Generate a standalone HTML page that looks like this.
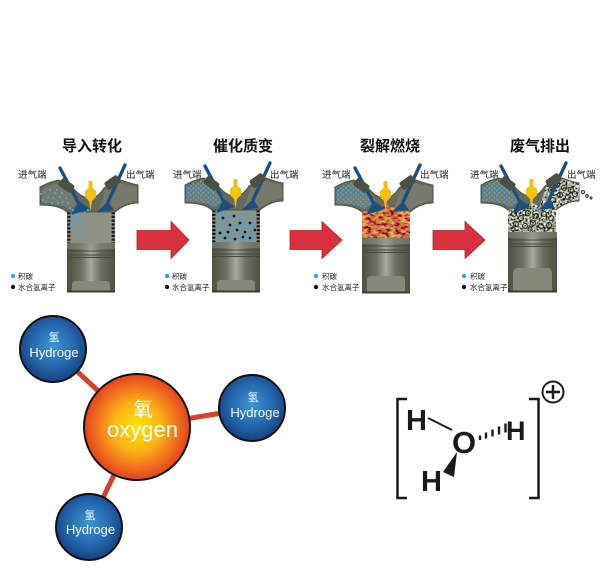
<!DOCTYPE html>
<html><head><meta charset="utf-8">
<style>
html,body{margin:0;padding:0;background:#fff;}
svg{display:block;}
</style></head><body>
<svg width="601" height="574" viewBox="0 0 601 574" xmlns="http://www.w3.org/2000/svg">
<defs>
<linearGradient id="pg" x1="0" x2="1" y1="0" y2="0">
<stop offset="0" stop-color="#4d5044"/><stop offset=".3" stop-color="#6c6f61"/><stop offset=".5" stop-color="#a6a99b"/><stop offset=".7" stop-color="#6c6f61"/><stop offset="1" stop-color="#4d5044"/>
</linearGradient>
<radialGradient id="og" cx=".5" cy=".5" r=".5"><stop offset="0" stop-color="#ffe600"/><stop offset=".45" stop-color="#fcb416"/><stop offset=".8" stop-color="#ef6a1e"/><stop offset="1" stop-color="#e2431d"/></radialGradient>
<radialGradient id="hg" cx=".5" cy=".45" r=".55"><stop offset="0" stop-color="#3d94d6"/><stop offset=".6" stop-color="#2466ad"/><stop offset="1" stop-color="#173f7d"/></radialGradient>
<pattern id="bd" width="6" height="5.4" patternUnits="userSpaceOnUse"><circle cx="1.5" cy="1.4" r="1.1" fill="#4aa7db"/><circle cx="4.5" cy="4.1" r="1" fill="#4aa7db"/></pattern>
<pattern id="bp" width="5" height="4.6" patternUnits="userSpaceOnUse"><circle cx="1.4" cy="1.3" r="1.1" fill="#4aa7db"/><circle cx="3.9" cy="3.6" r="1" fill="#4aa7db"/></pattern>
<filter id="fire"><feTurbulence type="fractalNoise" baseFrequency="0.18 0.35" numOctaves="3" seed="7"/><feColorMatrix type="matrix" values="1.5 0 0 0 -0.17  1.2 0 0 0 -0.42  0.2 0 0 0 -0.05  0 0 0 0 1"/></filter>
<filter id="bub"><feTurbulence type="fractalNoise" baseFrequency="0.45" numOctaves="2" seed="2"/><feColorMatrix type="matrix" values="2.2 0 0 0 -0.72  2.2 0 0 0 -0.7  2.1 0 0 0 -0.72  0 0 0 0 1"/></filter>
<clipPath id="lpc"><path d="M-26,-24 C-20,-28 -14,-30 -8,-30 L6,-22 C10,-17 12,-14 14,-11 L3,-3 C-6,-7 -14,-9 -26,-8 Z"/></clipPath>
<clipPath id="rpc"><path d="M38,-23 L50,-32 C58,-30 64,-28 71,-26 L71,-10 C62,-10 54,-6 48,-1 L31,-2 Z"/></clipPath>
<clipPath id="c3"><path d="M0,0 L9,-2 L24,-7 L39,-2 L48,0 L48,26 L0,26 Z"/></clipPath>
<clipPath id="c4"><path d="M0,0 L9,-2 L24,-7 L39,-2 L48,0 L48,22 L0,22 Z"/></clipPath>
<g id="hd">
<path d="M-27,-25 C-20,-29 -14,-31 -8,-32 L7,-23 C12,-17 17,-14 23,-14 C29,-14 33,-18 37,-24 L50,-33 C58,-31 64,-28 71,-27 L71,-9 C62,-9 54,-5 48,0 L0,0 C-6,-5 -14,-7 -27,-7 Z" fill="#66695b" stroke="#505346" stroke-width="1"/>
<path d="M-25,-22 C-20,-26 -14,-28 -8,-28 L5,-21 C9,-16 11,-13 13,-10 L3,-3 C-6,-7 -14,-9 -25,-9 Z" fill="#76796b"/>
<path d="M39,-22 L50,-30 C58,-28 64,-26 70,-25 L70,-11 C62,-11 54,-7 48,-2 L32,-3 Z" fill="#76796b"/>
</g>
<g id="vv">
<line x1="-7" y1="-44" x2="12" y2="-8" stroke="#1c4f7d" stroke-width="3.4" stroke-linecap="round"/>
<line x1="58" y1="-47" x2="41" y2="-10" stroke="#1c4f7d" stroke-width="3.4" stroke-linecap="round"/>
<rect x="-8" y="-31" width="15" height="9" rx="2" fill="#4c4f43" transform="rotate(35 -0.5 -26.5)"/>
<rect x="38" y="-34" width="15" height="9" rx="2" fill="#4c4f43" transform="rotate(-35 45.5 -29.5)"/>
<polygon points="4,3 23,-3 12,-11" fill="#1c4f7d"/>
<polygon points="30,0 47,-2 41,-11" fill="#1c4f7d"/>
<polygon points="21.5,-31 25.5,-31 25.5,-24 29,-21 29,-15 25,-11 23.5,-1 22,-11 18,-15 18,-21 21.5,-24" fill="#f3c10f"/>
</g>
</defs>

<!-- Titles -->
<g font-family="Liberation Sans, Noto Sans CJK SC, sans-serif" font-size="15" font-weight="bold" fill="#111" text-anchor="middle">
<text x="92" y="151">导入转化</text>
<text x="243" y="151">催化质变</text>
<text x="390" y="151">裂解燃烧</text>
<text x="540" y="151">废气排出</text>
</g>
<g font-family="Liberation Sans, Noto Sans CJK SC, sans-serif" font-size="9.5" fill="#222">
<text x="18" y="178">进气端</text><text x="126" y="178">出气端</text>
<text x="173" y="178">进气端</text><text x="270" y="178">出气端</text>
<text x="322" y="178">进气端</text><text x="420" y="178">出气端</text>
<text x="470" y="178">进气端</text><text x="567" y="178">出气端</text>
</g>

<!-- Arrows -->
<g fill="#d9303f" stroke="#b3202e" stroke-width=".8">
<polygon points="137,230.5 171,230.5 171,221.5 189,240 171,258.5 171,249.5 137,249.5"/>
<polygon points="290,230.5 322,230.5 322,221.5 342,240 322,258.5 322,249.5 290,249.5"/>
<polygon points="433,230.5 465,230.5 465,221.5 485,240 465,258.5 465,249.5 433,249.5"/>
</g>

<!-- Engine 1 -->
<g transform="translate(67,212)">
<rect x="0" y="0" width="48" height="31" fill="#8e9184"/>
<line x1="1.8" y1="0" x2="1.8" y2="31" stroke="#1b1b1b" stroke-width="3.2" stroke-dasharray="2.2 1.6"/>
<line x1="46.2" y1="0" x2="46.2" y2="31" stroke="#1b1b1b" stroke-width="3.2" stroke-dasharray="2.2 1.6"/>
<use href="#hd"/>
<use href="#vv"/>
<rect x="0" y="31" width="48" height="49" fill="url(#pg)"/>
<rect x="0" y="31" width="48" height="6" fill="#8a8d7f" opacity=".5"/>
<path d="M0,39h48M0,43h48M0,45.5h48" stroke="#45483c" stroke-width="1"/>
<path d="M5,80 V73 Q5,69 9,69 H39 Q43,69 43,73 V80 Z" fill="#86897a"/>
<rect x="0" y="78.5" width="48" height="2" fill="#3b3e33"/>
</g>
<g fill="#4aa7db">
<circle cx="45" cy="192" r="1.2"/><circle cx="50" cy="190" r="1.2"/><circle cx="55" cy="193" r="1.2"/><circle cx="48" cy="197" r="1.2"/><circle cx="43" cy="200" r="1.2"/><circle cx="53" cy="198" r="1.2"/><circle cx="60" cy="197" r="1.2"/><circle cx="63" cy="202" r="1.2"/><circle cx="58" cy="203" r="1.2"/><circle cx="68" cy="203" r="1.2"/><circle cx="70" cy="208" r="1.2"/><circle cx="73" cy="210" r="1.2"/><circle cx="77" cy="215" r="1.2"/><circle cx="80" cy="217" r="1.2"/><circle cx="85" cy="213" r="1.2"/><circle cx="88" cy="210" r="1.2"/><circle cx="77" cy="223" r="1.2"/><circle cx="80" cy="221" r="1.2"/><circle cx="75" cy="227" r="1.2"/><circle cx="82" cy="230" r="1.2"/><circle cx="78" cy="233" r="1.2"/><circle cx="84" cy="226" r="1.2"/><circle cx="73" cy="219" r="1.2"/><circle cx="80" cy="237" r="1.2"/><circle cx="41" cy="194" r="1.2"/><circle cx="46" cy="202" r="1.2"/><circle cx="52" cy="203" r="1.2"/><circle cx="57" cy="190" r="1.2"/><circle cx="62" cy="193" r="1.2"/><circle cx="66" cy="198" r="1.2"/><circle cx="72" cy="216" r="1.2"/><circle cx="76" cy="219" r="1.2"/><circle cx="71" cy="225" r="1.2"/>
</g>

<!-- Engine 2 -->
<g transform="translate(212,210)">
<rect x="0" y="0" width="48" height="32" fill="#8e9184"/>
<rect x="4" y="1" width="40" height="30" fill="url(#bd)"/>
<line x1="1.8" y1="0" x2="1.8" y2="32" stroke="#151515" stroke-width="3.2" stroke-dasharray="2.2 1.6"/>
<line x1="46.2" y1="0" x2="46.2" y2="32" stroke="#151515" stroke-width="3.2" stroke-dasharray="2.2 1.6"/>
<g fill="#111" stroke="#4aa7db" stroke-width=".8">
<circle cx="11" cy="8" r="1.8"/><circle cx="18" cy="15" r="1.8"/><circle cx="28" cy="13" r="1.8"/><circle cx="38" cy="13" r="1.8"/><circle cx="8" cy="23" r="1.8"/><circle cx="16" cy="22" r="1.8"/><circle cx="25" cy="20" r="1.8"/><circle cx="33" cy="22" r="1.8"/><circle cx="43" cy="20" r="1.8"/><circle cx="13" cy="28" r="1.8"/><circle cx="23" cy="29" r="1.8"/><circle cx="38" cy="28" r="1.8"/><circle cx="31" cy="27" r="1.8"/><circle cx="22" cy="6" r="1.8"/>
</g>
<use href="#hd"/>
<rect x="-28" y="-32" width="44" height="32" fill="url(#bp)" clip-path="url(#lpc)"/>
<use href="#vv"/>
<rect x="0" y="32" width="48" height="50" fill="url(#pg)"/>
<rect x="0" y="32" width="48" height="6" fill="#8a8d7f" opacity=".5"/>
<path d="M0,40h48M0,44h48M0,46.5h48" stroke="#45483c" stroke-width="1"/>
<path d="M5,82 V74 Q5,70 9,70 H39 Q43,70 43,74 V82 Z" fill="#86897a"/>
<rect x="0" y="80.5" width="48" height="2" fill="#3b3e33"/>
</g>

<!-- Engine 3 -->
<g transform="translate(362,212)">
<rect x="0" y="0" width="48" height="26" fill="#8a3a0c"/>
<use href="#hd"/>
<rect x="-2" y="-10" width="52" height="38" filter="url(#fire)" clip-path="url(#c3)"/>
<rect x="-28" y="-32" width="44" height="32" fill="url(#bp)" clip-path="url(#lpc)"/>
<use href="#vv"/>
<rect x="0" y="26" width="48" height="55" fill="url(#pg)"/>
<rect x="0" y="26" width="48" height="6" fill="#8a8d7f" opacity=".5"/>
<path d="M0,34h48M0,38h48M0,40.5h48" stroke="#45483c" stroke-width="1"/>
<path d="M5,81 V68 Q5,64 9,64 H39 Q43,64 43,68 V81 Z" fill="#86897a"/>
<rect x="0" y="79.5" width="48" height="2" fill="#3b3e33"/>
</g>

<!-- Engine 4 -->
<g transform="translate(508,210)">
<rect x="0" y="0" width="48" height="22" fill="#808178"/>
<use href="#hd"/>
<rect x="-2" y="-10" width="52" height="34" filter="url(#bub)" clip-path="url(#c4)"/>
<rect x="28" y="-36" width="46" height="38" filter="url(#bub)" clip-path="url(#rpc)"/>
<g fill="none" stroke="#2e2f29" stroke-width="1.1">
<circle cx="6" cy="4" r="2.5"/><circle cx="13" cy="8" r="2.5"/><circle cx="20" cy="3" r="2.5"/><circle cx="28" cy="6" r="2.5"/><circle cx="36" cy="4" r="2.5"/><circle cx="43" cy="8" r="2.5"/><circle cx="8" cy="14" r="2.5"/><circle cx="17" cy="16" r="2.5"/><circle cx="25" cy="13" r="2.5"/><circle cx="33" cy="16" r="2.5"/><circle cx="41" cy="15" r="2.5"/><circle cx="5" cy="19" r="2"/><circle cx="22" cy="19" r="2"/><circle cx="38" cy="19" r="2"/>
<circle cx="43" cy="-20" r="2.5"/><circle cx="49" cy="-25" r="2.5"/><circle cx="56" cy="-22" r="2.5"/><circle cx="63" cy="-20" r="2.5"/><circle cx="52" cy="-15" r="2.5"/><circle cx="60" cy="-13" r="2.5"/><circle cx="67" cy="-16" r="2.5"/><circle cx="45" cy="-10" r="2.5"/><circle cx="39" cy="-5" r="2"/>
<circle cx="75" cy="-18" r="1.5"/><circle cx="79" cy="-14" r="1.3"/><circle cx="83" cy="-12" r="1"/>
</g>
<rect x="-28" y="-32" width="44" height="32" fill="url(#bp)" clip-path="url(#lpc)"/>
<use href="#vv"/>
<rect x="0" y="22" width="49" height="60" fill="url(#pg)"/>
<rect x="0" y="22" width="49" height="6" fill="#8a8d7f" opacity=".5"/>
<path d="M0,30h49M0,34h49M0,36.5h49" stroke="#45483c" stroke-width="1"/>
<path d="M5,82 V64 Q5,58 10,58 H39 Q44,58 44,64 V82 Z" fill="#86897a"/>
<rect x="0" y="80.5" width="49" height="2" fill="#3b3e33"/>
</g>

<!-- Legends -->
<g font-family="Liberation Sans, Noto Sans CJK SC, sans-serif" font-size="7.5" fill="#222">
<circle cx="13" cy="276" r="2.2" fill="#3fa0d8"/><text x="18" y="279">积碳</text>
<circle cx="13" cy="287" r="2.2" fill="#111"/><text x="18" y="290">水合氢离子</text>
<circle cx="167" cy="276" r="2.2" fill="#3fa0d8"/><text x="172" y="279">积碳</text>
<circle cx="167" cy="287" r="2.2" fill="#111"/><text x="172" y="290">水合氢离子</text>
<circle cx="316" cy="276" r="2.2" fill="#3fa0d8"/><text x="322" y="279">积碳</text>
<circle cx="316" cy="287" r="2.2" fill="#111"/><text x="322" y="290">水合氢离子</text>
<circle cx="464" cy="276" r="2.2" fill="#3fa0d8"/><text x="470" y="279">积碳</text>
<circle cx="464" cy="287" r="2.2" fill="#111"/><text x="470" y="290">水合氢离子</text>
</g>

<!-- Molecule -->
<g stroke="#d6412b" stroke-width="5">
<line x1="53" y1="349" x2="137" y2="427"/>
<line x1="137" y1="427" x2="252" y2="408"/>
<line x1="137" y1="427" x2="89" y2="527"/>
</g>
<g stroke="#111" stroke-width="2">
<circle cx="137" cy="427" r="53" fill="url(#og)"/>
<circle cx="53" cy="349" r="33" fill="url(#hg)"/>
<circle cx="252" cy="408" r="33" fill="url(#hg)"/>
<circle cx="89" cy="527" r="33" fill="url(#hg)"/>
</g>
<g font-family="Liberation Sans, Noto Sans CJK SC, sans-serif" fill="#fff" text-anchor="middle">
<text x="143" y="416" font-size="20">氧</text>
<text x="142.5" y="437" font-size="22">oxygen</text>
<text x="54" y="341" font-size="11">氢</text>
<text x="54" y="357" font-size="13">Hydroge</text>
<text x="253" y="401" font-size="11">氢</text>
<text x="255" y="417" font-size="13">Hydroge</text>
<text x="90" y="519" font-size="11">氢</text>
<text x="90.5" y="534" font-size="13">Hydroge</text>
</g>

<!-- Hydronium -->
<g fill="none" stroke="#1a1a1a" stroke-width="2.5">
<path d="M407,399 H397.5 V498 H407"/>
<path d="M529,399 H538.5 V498 H529"/>
<circle cx="553" cy="392" r="10.5" stroke-width="2"/>
<path d="M546,392 H560 M553,385 V399" stroke-width="2.5"/>
</g>
<line x1="428" y1="418" x2="452" y2="430" stroke="#1a1a1a" stroke-width="2"/>
<g stroke="#1a1a1a" stroke-width="2.4">
<line x1="480" y1="435.5" x2="480" y2="440"/>
<line x1="486" y1="432.5" x2="486" y2="438.5"/>
<line x1="492.5" y1="429.5" x2="492.5" y2="436.5"/>
<line x1="499" y1="426.5" x2="499" y2="434.5"/>
<line x1="505.5" y1="423.5" x2="505.5" y2="432.5"/>
</g>
<polygon points="457,452 443,472 454,477" fill="#1a1a1a"/>
<g font-family="Liberation Sans, sans-serif" fill="#1a1a1a" font-weight="bold">
<text x="406" y="430" font-size="29">H</text>
<text x="452" y="453" font-size="31">O</text>
<text x="506" y="440" font-size="27">H</text>
<text x="421" y="491" font-size="29">H</text>
</g>
</svg>
</body></html>
